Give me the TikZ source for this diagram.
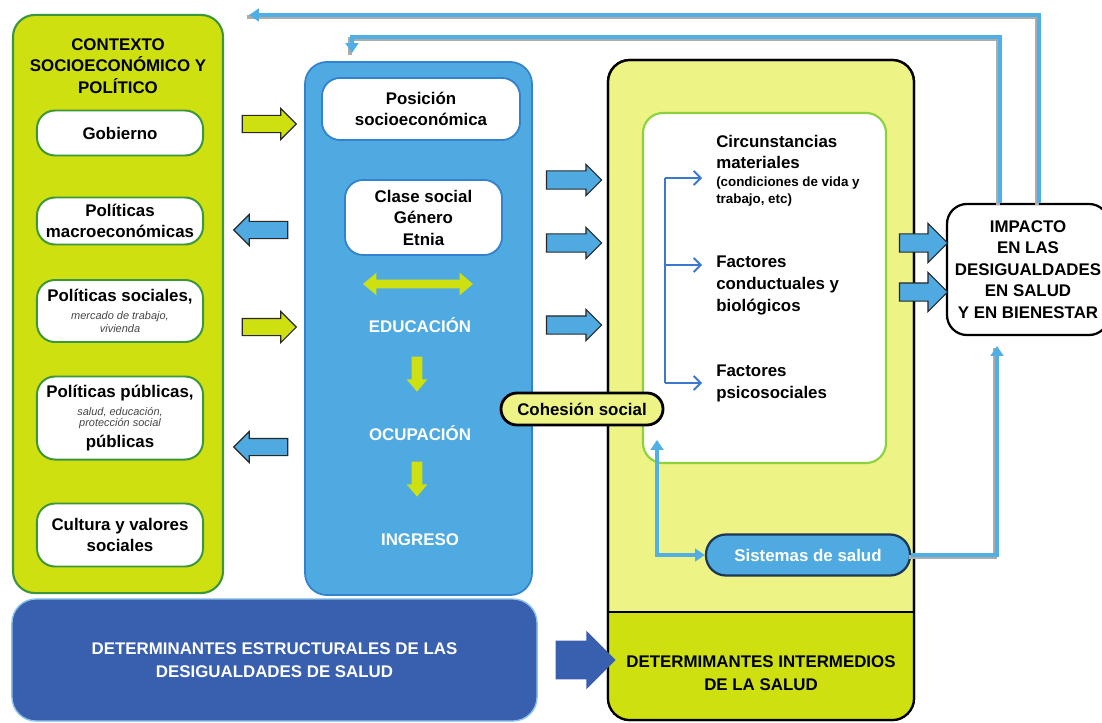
\documentclass[tikz,border=0pt]{standalone}
\usepackage{fontspec}
\setmainfont{Liberation Sans}
\usetikzlibrary{arrows.meta,shapes.arrows}

\definecolor{ctxgreen}{RGB}{206,224,16}
\definecolor{ctxedge}{RGB}{60,150,60}
\definecolor{posblue}{RGB}{78,170,225}
\definecolor{posedge}{RGB}{50,130,205}
\definecolor{interyellow}{RGB}{238,243,133}
\definecolor{innergreen}{RGB}{140,210,60}
\definecolor{structblue}{RGB}{57,95,175}
\definecolor{structedge}{RGB}{140,195,235}
\definecolor{lineblue}{RGB}{80,175,228}
\definecolor{bracketblue}{RGB}{60,120,205}
\definecolor{arrowedge}{RGB}{40,40,40}
\definecolor{sysedge}{RGB}{30,55,85}
\definecolor{notegray}{RGB}{70,70,70}

\newcommand{\boxfont}{\bfseries\fontsize{12}{15.3}\selectfont}
\newcommand{\notefont}{\mdseries\itshape\fontsize{7.8}{8.5}\selectfont\color{notegray}}

\tikzset{
  ctxframe/.style={draw=ctxedge, fill=ctxgreen, line width=1.5pt, rounded corners=0.55cm, minimum width=5.25cm, minimum height=14.45cm},
  posframe/.style={draw=posedge, fill=posblue, line width=1.2pt, rounded corners=0.55cm, minimum width=5.675cm, minimum height=13.325cm},
  interframe/.style={draw=black, line width=1.6pt, rounded corners=0.55cm, minimum width=7.65cm, minimum height=16.5cm},
  itembox/.style={draw=ctxedge, fill=white, line width=1.4pt, rounded corners=0.45cm, minimum width=4.15cm, align=center, inner sep=1pt, font=\boxfont},
  posbox/.style={draw=posedge, fill=white, line width=1.3pt, rounded corners=0.45cm, align=center, font=\boxfont},
  whitetext/.style={text=white, align=center, font=\boxfont},
  blacktext/.style={align=center, font=\boxfont},
  factortext/.style={anchor=west, align=left, inner sep=0pt, font=\bfseries\fontsize{12}{15.6}\selectfont},
  sidearrow/.style={single arrow, draw=arrowedge, line width=0.8pt, inner sep=0.2cm, single arrow head extend=0.175cm, minimum height=1.35cm},
  midarrow/.style={sidearrow, fill=posblue, inner sep=0.2125cm, single arrow head extend=0.1625cm, minimum height=1.375cm},
  imparrow/.style={sidearrow, fill=posblue, inner sep=0.2125cm, single arrow head extend=0.2625cm, minimum height=1.2cm},
  downarrow/.style={single arrow, fill=ctxgreen, inner sep=0.125cm, single arrow head extend=0.125cm, single arrow tip angle=80, minimum height=0.875cm, shape border rotate=270},
  fbline/.style={draw=lineblue, line width=2.6pt, -{Triangle[length=7pt,width=9pt]}},
  fbshadow/.style={draw=gray!65, line width=2.6pt, transform canvas={shift={(-1.5pt,-1.5pt)}}},
  brline/.style={draw=bracketblue, line width=1.3pt}
}

\begin{document}
\begin{tikzpicture}[x=0.025cm, y=-0.025cm]
\useasboundingbox (0,0) rectangle (1102,722);

\node[ctxframe] (ctx) at (118,304) {};
\node[blacktext] (ctxtitle) at (118,66) {CONTEXTO\\SOCIOECONÓMICO Y\\POLÍTICO};
\node[itembox, minimum height=1.125cm] (gob) at (120,133) {Gobierno};
\node[itembox, minimum height=1.175cm] (macro) at (120,221) {Políticas\\macroeconómicas};
\node[itembox, minimum height=1.55cm] (soc) at (120,311) {Políticas sociales,\\[-3pt]{\notefont mercado de trabajo,}\\[-6pt]{\notefont vivienda}};
\node[itembox, minimum height=2.075cm] (pub) at (120,418) {Políticas públicas,\\[-2.5pt]{\notefont salud, educación,}\\[-7pt]{\notefont protección social}\\[-0.5pt]públicas};
\node[itembox, minimum height=1.575cm] (cult) at (120,535) {Cultura y valores\\sociales};

\node[sidearrow, fill=ctxgreen] (ar1) at (265,124) {};
\node[sidearrow, fill=posblue, shape border rotate=180] (ar2) at (265,230) {};
\node[sidearrow, fill=ctxgreen] (ar3) at (265,327) {};
\node[sidearrow, fill=posblue, shape border rotate=180] (ar4) at (265,447) {};

\node[posframe] (pos) at (418.5,328.5) {};
\node[posbox, minimum width=4.95cm, minimum height=1.55cm] (posi) at (421,109) {Posición\\socioeconómica};
\node[posbox, minimum width=3.925cm, minimum height=1.875cm] (clase) at (423.5,217.5) {Clase social\\Género\\Etnia};
\node[double arrow, fill=ctxgreen, inner sep=0.1cm, double arrow head extend=0.175cm, double arrow tip angle=80, minimum height=2.75cm] (dbl) at (418,284) {};
\node[whitetext] (edu) at (420,325) {EDUCACIÓN};
\node[downarrow] (down1) at (417,371) {};
\node[whitetext] (ocu) at (420,433) {OCUPACIÓN};
\node[downarrow] (down2) at (417,476) {};
\node[whitetext] (ing) at (420,540) {INGRESO};

\node[midarrow] (mid1) at (569.5,180) {};
\node[midarrow] (mid2) at (569.5,243) {};
\node[midarrow] (mid3) at (569.5,325) {};

\node[interframe, fill=interyellow] (inter) at (761,390) {};
\begin{scope}
  \clip (600,612) rectangle (920,730);
  \node[interframe, fill=ctxgreen, draw=none] (interlow) at (inter) {};
\end{scope}
\draw[line width=1.3pt] (inter.west |- 0,612) -- (inter.east |- 0,612);
\node[interframe] (interedge) at (inter) {};

\node[draw=innergreen, fill=white, line width=1.5pt, rounded corners=0.5cm, minimum width=6.075cm, minimum height=8.75cm] (inner) at (764.5,288) {};
\node[factortext] (circ) at (716,152) {Circunstancias\\materiales};
\node[factortext, font=\bfseries\fontsize{9.5}{12}\selectfont] (cond) at (716,191.5) {(condiciones de vida y\\trabajo, etc)};
\node[factortext] (fact) at (716,285.5) {Factores\\conductuales y\\biológicos};
\node[factortext] (psico) at (716,383) {Factores\\psicosociales};

\coordinate (brtop) at (665,178);
\coordinate (brbot) at (665,383);
\draw[brline] (brtop) -- (brbot);
\foreach \y in {178,265,383}
  \draw[brline, -{Straight Barb[length=5pt,width=10pt]}] (665,\y) -- (702,\y);

\node[draw=black, fill=interyellow, line width=2pt, rounded corners=0.4cm, minimum width=4.05cm, minimum height=0.8cm, font=\boxfont] (cohesion) at (582,409) {Cohesión social};
\node[draw=sysedge, fill=posblue, text=white, line width=1.6pt, rounded corners=0.5cm, minimum width=5.1cm, minimum height=1.025cm, font=\boxfont] (sistemas) at (808,555) {Sistemas de salud};

\node[draw=black, fill=white, line width=1.6pt, rounded corners=0.5cm, minimum width=4.05cm, minimum height=3.275cm, blacktext] (impacto) at (1028,269.5) {IMPACTO\\EN LAS\\DESIGUALDADES\\EN SALUD\\Y EN BIENESTAR};
\node[imparrow] (imp1) at (919,243) {};
\node[imparrow] (imp2) at (919,292) {};

\node[draw=structedge, fill=structblue, line width=1pt, rounded corners=0.6cm, minimum width=13.125cm, minimum height=3.05cm, whitetext, font=\bfseries\fontsize{12}{16}\selectfont] (estruct) at (274.5,660) {DETERMINANTES ESTRUCTURALES DE LAS\\DESIGUALDADES DE SALUD};
\node[single arrow, fill=structblue, inner sep=0.475cm, single arrow head extend=0.25cm, minimum height=1.5cm] (bigarrow) at (576,660) {};
\node[blacktext, font=\bfseries\fontsize{12}{16}\selectfont] (intermed) at (761,673) {DETERMIMANTES INTERMEDIOS\\DE LA SALUD};

\coordinate (fbA) at (1039,15);
\coordinate (fbtip) at (249,15);
\coordinate (fbB) at (1000,37);
\coordinate (fbend) at (352,53);
\coordinate (imptip) at (997,346);
\coordinate (cohtip) at (657,440);
\draw[fbshadow] (impacto.north -| fbA) -- (fbA) -- (fbtip);
\draw[fbline] (impacto.north -| fbA) -- (fbA) -- (fbtip);
\draw[fbshadow] (impacto.north -| fbB) -- (fbB) -| (fbend);
\draw[fbline] (impacto.north -| fbB) -- (fbB) -| (fbend);
\draw[fbshadow] (sistemas.east) -| (imptip);
\draw[fbline] (sistemas.east) -| (imptip);
\draw[fbline, {Triangle[length=7pt,width=9pt]}-{Triangle[length=7pt,width=9pt]}] (cohtip) |- (sistemas.west);
\end{tikzpicture}
\end{document}
